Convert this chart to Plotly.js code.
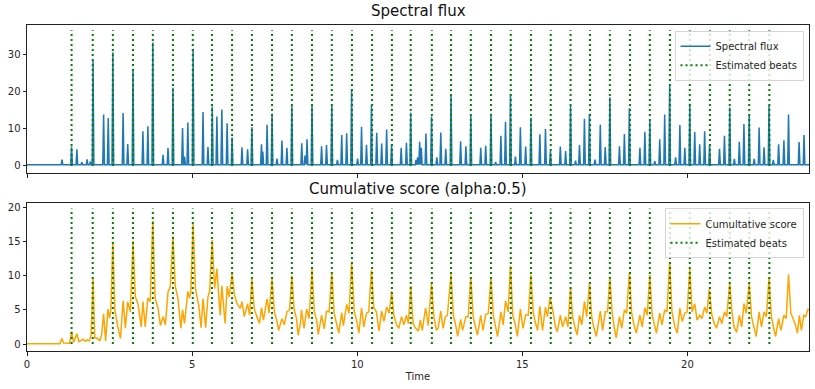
<!DOCTYPE html>
<html>
<head>
<meta charset="utf-8">
<script src="https://cdn.plot.ly/plotly-3.0.1.min.js"></script>
<style>html,body{margin:0;padding:0;background:#fff;}#chart{width:815px;height:389px;}</style>
</head>
<body>
<div id="chart"></div>
<script>
// ---- Data ----
// Spectral flux: peak times (s) and heights; the curve rests on a near-zero baseline between peaks
const fluxPeakTimes = [
  0.74, 1.06, 1.35, 1.51, 1.66, 1.82, 1.92, 2.00, 2.32, 2.46,
  2.60, 2.91, 3.05, 3.21, 3.51, 3.66, 3.81, 4.12, 4.27, 4.42,
  4.71, 4.77, 4.87, 5.03, 5.33, 5.48, 5.61, 5.75, 5.90, 6.06,
  6.21, 6.51, 6.68, 6.81, 7.10, 7.14, 7.27, 7.42, 7.57, 7.72,
  7.87, 8.02, 8.32, 8.42, 8.48, 8.63, 8.92, 9.07, 9.23, 9.40,
  9.53, 9.68, 9.83, 10.01, 10.13, 10.28, 10.43, 10.59, 10.74, 10.89,
  11.04, 11.33, 11.49, 11.62, 11.78, 11.83, 11.89, 11.94, 12.08, 12.25,
  12.41, 12.53, 12.68, 12.84, 13.13, 13.29, 13.44, 13.74, 13.89, 14.05,
  14.19, 14.35, 14.49, 14.64, 14.79, 14.94, 15.10, 15.26, 15.53, 15.70,
  15.85, 16.15, 16.31, 16.46, 16.61, 16.73, 16.88, 17.03, 17.20, 17.36,
  17.51, 17.65, 17.94, 18.09, 18.24, 18.56, 18.71, 18.86, 19.01, 19.16,
  19.31, 19.46, 19.64, 19.77, 19.92, 20.07, 20.22, 20.37, 20.52, 20.67,
  20.97, 21.12, 21.28, 21.42, 21.57, 21.71, 21.87, 22.02, 22.17, 22.32,
  22.47, 22.60, 22.76, 22.92, 23.06, 23.38, 23.53
];
const fluxPeakValues = [
  0.4, 1.7, 5.2, 4.5, 1.0, 1.8, 1.2, 28.4, 13.8, 12.9,
  30.6, 14.2, 5.9, 26.1, 9.3, 10.7, 33.2, 3.0, 4.8, 21.0,
  10.2, 2.5, 11.7, 31.4, 14.5, 5.1, 16.0, 13.3, 15.2, 11.5,
  7.7, 5.0, 4.5, 10.4, 5.8, 3.9, 11.1, 14.0, 2.0, 6.8,
  4.9, 16.2, 6.1, 2.8, 7.2, 16.5, 5.3, 5.6, 16.3, 1.6,
  8.3, 8.8, 20.6, 2.0, 10.5, 5.7, 16.5, 8.9, 6.0, 9.8,
  5.8, 4.9, 6.2, 14.3, 1.6, 2.3, 6.5, 4.9, 8.7, 13.3,
  2.3, 9.0, 4.6, 19.1, 6.6, 5.3, 13.4, 4.9, 5.4, 14.0,
  1.1, 8.1, 11.9, 19.4, 2.5, 10.4, 5.2, 13.0, 8.5, 9.9,
  4.0, 5.2, 4.0, 16.3, 1.4, 5.6, 12.7, 14.0, 1.7, 11.1,
  5.1, 18.5, 5.3, 8.6, 15.5, 4.9, 9.2, 12.4, 1.3, 7.2,
  13.8, 21.5, 2.3, 11.0, 4.9, 16.7, 9.1, 5.8, 9.3, 5.8,
  4.6, 8.1, 15.7, 1.9, 6.5, 11.3, 13.8, 1.9, 10.3, 5.0,
  16.3, 1.6, 5.8, 6.9, 13.8, 6.4, 8.3
];
const fluxBaseline = 0.3;
const timeEnd = 23.68;

// Cumulative score curve vertices
const scoreTimes = [
  0, 0.70, 0.74, 0.78, 1.00, 1.05, 1.11, 1.29, 1.35, 1.41,
  1.51, 1.57, 1.64, 1.70, 1.77, 1.82, 1.88, 1.94, 2.00, 2.05,
  2.14, 2.20, 2.26, 2.32, 2.38, 2.45, 2.50, 2.54, 2.60, 2.66,
  2.75, 2.83, 2.91, 2.98, 3.05, 3.13, 3.21, 3.28, 3.36, 3.46,
  3.51, 3.58, 3.66, 3.73, 3.81, 3.88, 3.97, 4.04, 4.12, 4.19,
  4.27, 4.34, 4.42, 4.49, 4.57, 4.66, 4.71, 4.77, 4.87, 4.92,
  4.96, 5.03, 5.10, 5.20, 5.27, 5.33, 5.41, 5.48, 5.53, 5.61,
  5.68, 5.75, 5.81, 5.85, 5.90, 5.95, 6.00, 6.06, 6.12, 6.21,
  6.28, 6.36, 6.46, 6.51, 6.58, 6.68, 6.74, 6.81, 6.88, 6.96,
  7.04, 7.10, 7.16, 7.27, 7.33, 7.42, 7.49, 7.57, 7.62, 7.72,
  7.79, 7.87, 7.95, 8.02,
  8.09, 8.16, 8.21, 8.28, 8.31, 8.39, 8.47, 8.54, 8.63, 8.70,
  8.77, 8.82, 8.92, 9.00, 9.07, 9.15, 9.23, 9.30, 9.37, 9.44,
  9.53, 9.58, 9.68, 9.75, 9.83, 9.91, 9.98, 10.05, 10.13, 10.20,
  10.28, 10.35, 10.43, 10.50, 10.58, 10.66, 10.74, 10.81, 10.89, 10.97,
  11.04, 11.11, 11.19, 11.26, 11.34, 11.41, 11.49, 11.55, 11.62, 11.69,
  11.77, 11.85, 11.91, 11.97, 12.07, 12.15, 12.25, 12.32, 12.40, 12.45,
  12.53, 12.60, 12.67, 12.73, 12.84, 12.91, 12.98, 13.04, 13.13, 13.19,
  13.29, 13.36, 13.44, 13.51, 13.58, 13.64, 13.74, 13.81, 13.89, 13.97,
  14.05, 14.12, 14.19, 14.25, 14.35, 14.42, 14.49, 14.57, 14.64, 14.71,
  14.79, 14.85, 14.94, 15.02, 15.10, 15.18, 15.26, 15.33, 15.40, 15.46,
  15.53, 15.61, 15.70, 15.76, 15.84,
  15.93, 16.00, 16.06, 16.15, 16.22, 16.31, 16.38, 16.46, 16.52, 16.59,
  16.66, 16.73, 16.80, 16.88, 16.95, 17.03, 17.10, 17.17, 17.24, 17.36,
  17.43, 17.51, 17.58, 17.65, 17.72, 17.78, 17.84, 17.94, 18.01, 18.09,
  18.16, 18.24, 18.31, 18.38, 18.45, 18.56, 18.63, 18.71, 18.78, 18.86,
  18.93, 19.00, 19.06, 19.16, 19.23, 19.31, 19.38, 19.46, 19.53, 19.62,
  19.69, 19.77, 19.84, 19.92, 19.99, 20.07, 20.14, 20.22, 20.29, 20.37,
  20.44, 20.52, 20.59, 20.66, 20.74, 20.81, 20.88, 20.97, 21.04, 21.12,
  21.19, 21.28, 21.35, 21.41, 21.49, 21.57, 21.64, 21.71, 21.78, 21.87,
  21.94, 22.01, 22.08, 22.17, 22.24, 22.32, 22.39, 22.47, 22.54, 22.61,
  22.67, 22.76, 22.83, 22.92, 22.99, 23.06, 23.13, 23.20, 23.27, 23.33,
  23.39, 23.45, 23.52, 23.58, 23.65, 23.68
];
const scoreValues = [
  0.05, 0.05, 0.15, 0.05, 0.05, 0.8, 0.15, 0.1, 1.8, 0.25,
  1.5, 0.35, 0.5, 0.7, 0.4, 0.6, 0.45, 1.2, 9.7, 0.9,
  0.8, 0.45, 1.3, 4.4, 0.45, 5.1, 3.8, 5.0, 14.9, 5.0,
  2.5, 0.8, 6.3, 2.3, 6.2, 4.7, 15.0, 6.9, 5.9, 2.5,
  6.2, 2.5, 6.7, 6.2, 18.0, 6.7, 5.2, 2.7, 4.0, 2.8,
  7.6, 8.4, 15.7, 8.4, 6.7, 2.3, 5.0, 3.0, 7.7, 6.7,
  7.7, 17.6, 8.1, 5.7, 2.4, 6.6, 2.4, 6.9, 7.7, 15.2,
  8.1, 11.0, 6.7, 4.2, 8.5, 5.2, 3.0, 8.4, 6.9, 10.3,
  7.2, 5.9, 5.2, 6.2, 4.0, 5.9, 4.2, 9.6, 5.2, 4.0,
  3.0, 5.3, 3.5, 6.6, 4.5, 9.6, 4.7, 3.3, 2.0, 3.7,
  2.8, 4.7, 5.0, 10.0,
  5.0, 3.7, 1.3, 3.0, 5.0, 2.3, 5.1, 3.7, 10.9, 4.7,
  3.5, 1.4, 4.2, 2.2, 4.8, 4.7, 10.5, 4.5, 2.8, 1.6,
  4.6, 2.7, 5.8, 4.5, 11.9, 4.7, 3.5, 1.6, 5.3, 2.5,
  4.5, 4.7, 10.8, 5.3, 4.7, 1.9, 4.8, 3.3, 5.4, 4.5,
  7.7, 4.2, 2.8, 2.3, 4.0, 2.8, 4.2, 3.0, 8.5, 3.0,
  2.3, 1.9, 3.5, 2.0, 5.3, 2.7, 8.9, 4.0, 2.0, 2.3,
  4.8, 2.3, 4.0, 4.2, 10.2, 4.2, 2.8, 1.1, 3.6, 2.0,
  4.0, 4.0, 9.8, 4.0, 2.5, 1.3, 4.2, 2.0, 4.3, 4.5,
  9.8, 4.2, 2.5, 1.1, 4.7, 2.8, 6.3, 4.7, 11.4, 4.2,
  2.8, 1.1, 5.1, 2.3, 4.3, 4.2, 10.1, 4.5, 3.0, 2.0,
  5.5, 2.0, 5.4, 4.0, 6.8,
  4.7, 2.5, 1.8, 4.2, 2.5, 4.0, 2.5, 8.3, 4.0, 2.5,
  1.3, 4.2, 2.8, 6.2, 4.0, 8.8, 4.0, 2.3, 1.1, 4.8,
  2.0, 4.7, 4.7, 9.8, 4.5, 2.5, 0.9, 4.0, 2.3, 5.0,
  4.5, 10.4, 4.5, 2.8, 1.6, 4.2, 2.5, 5.3, 4.2, 10.1,
  4.2, 2.8, 1.6, 4.5, 2.8, 5.0, 4.7, 11.9, 4.7, 2.5,
  1.6, 5.2, 3.3, 4.5, 4.7, 11.0, 4.7, 5.9, 3.5, 4.2,
  3.7, 5.4, 4.5, 8.0, 4.2, 3.0, 2.3, 4.0, 3.0, 4.7,
  4.0, 8.9, 4.5, 2.5, 1.7, 4.2, 2.5, 5.9, 4.5, 8.9,
  4.0, 2.5, 1.1, 4.7, 2.5, 4.7, 4.0, 9.7, 4.0, 2.3,
  1.1, 3.7, 2.0, 4.2, 3.7, 10.2, 4.5, 3.7, 2.8, 1.6,
  4.2, 2.0, 4.2, 4.0, 5.1, 5.0
];

// Estimated beat times (s)
const beatTimes = [
  1.35, 1.99, 2.60, 3.21, 3.81, 4.42, 5.02, 5.60, 6.21, 6.81,
  7.42, 8.02, 8.63, 9.23, 9.84, 10.45, 11.05, 11.62, 12.26, 12.84,
  13.44, 14.05, 14.65, 15.26, 15.86, 16.46, 17.05, 17.65, 18.26, 18.86,
  19.47, 20.07, 20.68, 21.28, 21.87, 22.48
];

const xTicks = [0, 5, 10, 15, 20];
const fluxTicks = [0, 10, 20, 30];
const scoreTicks = [0, 5, 10, 15, 20];

// ---- Build traces ----
const fluxX = [0], fluxY = [fluxBaseline];
fluxPeakTimes.forEach((t, i) => {
  fluxX.push(t - 0.025, t, t + 0.025);
  fluxY.push(fluxBaseline, fluxPeakValues[i], fluxBaseline);
});
fluxX.push(timeEnd); fluxY.push(fluxBaseline);

function beatSegments(top) {
  const x = [], y = [];
  beatTimes.forEach(t => { x.push(t, t, null); y.push(0, top, null); });
  return {x, y};
}
const fluxTop = Math.max(...fluxPeakValues) * 1.1;
const scoreTop = Math.max(...scoreValues) * 1.1;
const b1 = beatSegments(fluxTop), b2 = beatSegments(scoreTop);

const green = '#008000';
const traces = [
  {x: fluxX, y: fluxY, type: 'scatter', mode: 'lines', name: 'Spectral flux',
   line: {color: '#1f77b4', width: 1.5}, xaxis: 'x', yaxis: 'y', legend: 'legend', hoverinfo: 'skip'},
  {x: b1.x, y: b1.y, type: 'scatter', mode: 'lines', name: 'Estimated beats',
   line: {color: green, width: 2, dash: '2px,3px'}, xaxis: 'x', yaxis: 'y', legend: 'legend', hoverinfo: 'skip'},
  {x: scoreTimes, y: scoreValues, type: 'scatter', mode: 'lines', name: 'Cumultative score',
   line: {color: '#ffa500', width: 1.5}, xaxis: 'x2', yaxis: 'y2', legend: 'legend2', hoverinfo: 'skip'},
  {x: b2.x, y: b2.y, type: 'scatter', mode: 'lines', name: 'Estimated beats',
   line: {color: green, width: 2, dash: '2px,3px'}, xaxis: 'x2', yaxis: 'y2', legend: 'legend2', hoverinfo: 'skip'}
];

const axisBase = {
  showline: true, mirror: true, linecolor: '#222', linewidth: 1,
  showgrid: false, zeroline: false, ticks: 'outside', ticklen: 3.5, tickwidth: 1,
  tickcolor: '#222', tickfont: {size: 10, color: '#262626'}, automargin: false
};
const legendBase = {
  xanchor: 'right', yanchor: 'top', x: 0.993,
  bgcolor: 'rgba(255,255,255,0.8)', bordercolor: '#d5d5d5', borderwidth: 1,
  font: {size: 10, color: '#262626'}, itemwidth: 30, tracegroupgap: 0
};

const layout = {
  width: 815, height: 389,
  margin: {l: 27, r: 6, t: 25, b: 38},
  paper_bgcolor: '#fff', plot_bgcolor: '#fff',
  font: {family: 'DejaVu Sans, sans-serif', size: 10, color: '#262626'},
  showlegend: true,
  xaxis: Object.assign({}, axisBase, {domain: [0, 1], anchor: 'y', range: [0, timeEnd],
    tickvals: xTicks, showticklabels: false}),
  yaxis: Object.assign({}, axisBase, {domain: [0.546, 1], anchor: 'x', range: [-1.9, 37.9],
    tickvals: fluxTicks}),
  xaxis2: Object.assign({}, axisBase, {domain: [0, 1], anchor: 'y2', range: [0, timeEnd],
    tickvals: xTicks, title: {text: 'Time', font: {size: 10, color: '#262626'}, standoff: 4}}),
  yaxis2: Object.assign({}, axisBase, {domain: [0, 0.454], anchor: 'x2', range: [-1.02, 20.6],
    tickvals: scoreTicks}),
  legend: Object.assign({}, legendBase, {y: 0.9825}),
  legend2: Object.assign({}, legendBase, {y: 0.4377}),
  annotations: [
    {text: 'Spectral flux', xref: 'paper', yref: 'paper', x: 0.5, y: 1, xanchor: 'center',
     yanchor: 'bottom', yshift: 3, showarrow: false, font: {size: 15, color: '#111'}},
    {text: 'Cumulative score (alpha:0.5)', xref: 'paper', yref: 'paper', x: 0.5, y: 0.454,
     xanchor: 'center', yanchor: 'bottom', yshift: 3, showarrow: false, font: {size: 15, color: '#111'}}
  ]
};

Plotly.newPlot('chart', traces, layout, {displayModeBar: false, staticPlot: true});
</script>
</body>
</html>
